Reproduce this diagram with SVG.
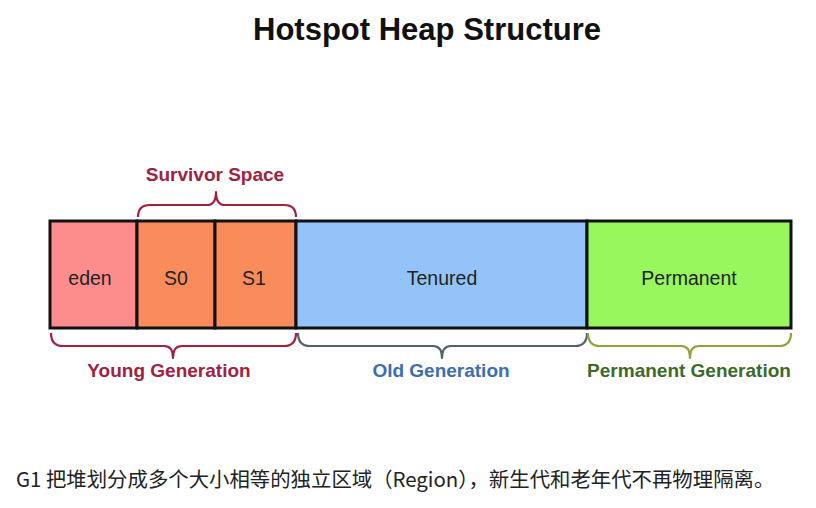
<svg xmlns="http://www.w3.org/2000/svg" width="816" height="508" viewBox="0 0 816 508">
<style>
.cell{stroke:#111;stroke-width:3}
.lbl{font-family:"Liberation Sans",Arial,sans-serif;font-size:19.5px;fill:#222;text-anchor:middle}
.gl{font-family:"Liberation Sans",Arial,sans-serif;font-size:19px;font-weight:bold;text-anchor:middle}
.br{fill:none;stroke-width:2.2;stroke-linejoin:round}
</style>
<rect width="816" height="508" fill="#ffffff"/>
<text x="427" y="40" font-family="Liberation Sans,Arial,sans-serif" font-size="31" font-weight="bold" fill="#111" text-anchor="middle">Hotspot Heap Structure</text>
<g id="eden"><rect class="cell" x="50" y="221" width="87" height="107" fill="#fd8d8d"/><text class="lbl" x="90" y="285">eden</text></g>
<g id="s0"><rect class="cell" x="137" y="221" width="78" height="107" fill="#fa8b5a"/><text class="lbl" x="176" y="285">S0</text></g>
<g id="s1"><rect class="cell" x="215" y="221" width="81" height="107" fill="#fa8b5a"/><text class="lbl" x="254" y="285">S1</text></g>
<g id="tenured"><rect class="cell" x="296" y="221" width="291" height="107" fill="#93c3f8"/><text class="lbl" x="442" y="285">Tenured</text></g>
<g id="permanent"><rect class="cell" x="587" y="221" width="204" height="107" fill="#99f75e"/><text class="lbl" x="689" y="285">Permanent</text></g>
<g id="connectors">
<path class="br" stroke="#a3203f" d="M138,217 Q138,205 150,205 L207,205 Q216,205 216,192 Q216,205 225,205 L284,205 Q296,205 296,217"/>
<path class="br" stroke="#a3203f" d="M51,333 Q51,346 63,346 L164,346 Q173,346 173,358 Q173,346 182,346 L284,346 Q296,346 296,333"/>
<path class="br" stroke="#4e6468" d="M298,333 Q298,346 310,346 L433,346 Q442,346 442,358 Q442,346 451,346 L575,346 Q587,346 587,333"/>
<path class="br" stroke="#8ea43a" d="M588,333 Q588,346 600,346 L681,346 Q690,346 690,358 Q690,346 699,346 L779,346 Q791,346 791,333"/>
</g>
<g id="survivor-label"><text class="gl" x="215" y="181" fill="#a3203f">Survivor Space</text></g>
<g id="young-label"><text class="gl" x="169" y="377" fill="#a3203f">Young Generation</text></g>
<g id="old-label"><text class="gl" x="441" y="377" fill="#3c6eb4">Old Generation</text></g>
<g id="perm-label"><text class="gl" x="689" y="377" fill="#3c6a28">Permanent Generation</text></g>
<text x="16" y="487" font-family="'Noto Sans CJK SC','Noto Sans',sans-serif" font-size="20.4" fill="#222">G1 把堆划分成多个大小相等的独立区域（Region），新生代和老年代不再物理隔离。</text>
</svg>
